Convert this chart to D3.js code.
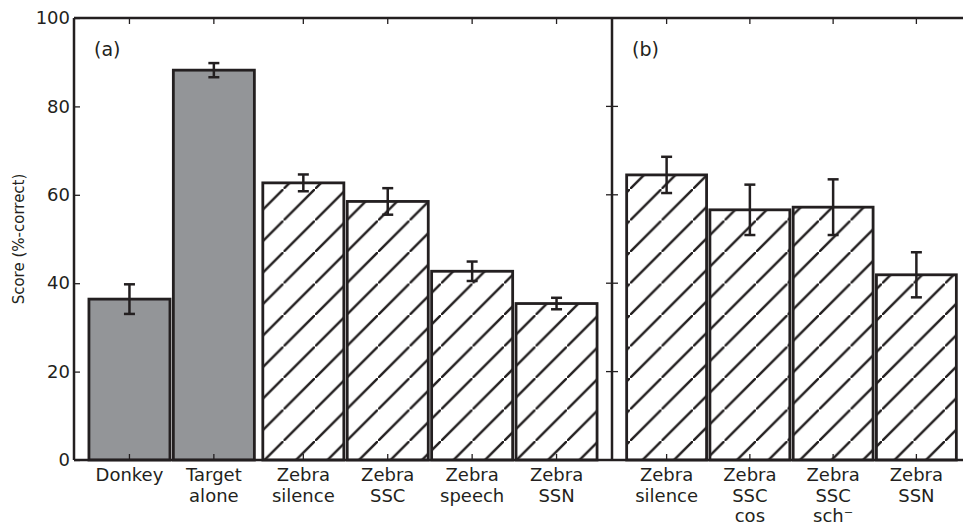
<!DOCTYPE html>
<html>
<head>
<meta charset="utf-8">
<script src="https://cdn.jsdelivr.net/npm/d3@7"></script>
<style>
  body { margin: 0; background: #fff; }
  text { font-family: "DejaVu Sans", sans-serif; fill: #231f20; }
</style>
</head>
<body>
<div id="chart"></div>
<script>
// panel (a) data
var catsA = [["Donkey"], ["Target", "alone"], ["Zebra", "silence"], ["Zebra", "SSC"], ["Zebra", "speech"], ["Zebra", "SSN"]];
var posA = [1, 2, 3.06, 4.06, 5.06, 6.06];
var valsA = [36.4, 88.2, 62.7, 58.5, 42.7, 35.4];
var errA = [3.35, 1.6, 1.9, 3.0, 2.2, 1.3];
var hatchA = [false, false, true, true, true, true];

// panel (b) data
var catsB = [["Zebra", "silence"], ["Zebra", "SSC", "cos"], ["Zebra", "SSC", "sch⁻"], ["Zebra", "SSN"]];
var posB = [1, 2, 3, 4];
var valsB = [64.5, 56.6, 57.2, 41.9];
var errB = [4.1, 5.7, 6.3, 5.1];

var yTicks = [0, 20, 40, 60, 80, 100];

var W = 963, H = 525;
var yTop = 18, yBot = 460, xLeft = 74, xSplit = 612;

var svg = d3.select("#chart").append("svg")
  .attr("width", W).attr("height", H);

// hatch pattern
svg.append("defs").append("pattern")
  .attr("id", "hatch")
  .attr("patternUnits", "userSpaceOnUse")
  .attr("width", 31.5).attr("height", 31.5)
  .call(function(p) {
    p.append("rect").attr("width", 31.5).attr("height", 31.5).attr("fill", "#fff");
    p.append("line").attr("x1", -2).attr("y1", 33.5).attr("x2", 33.5).attr("y2", -2)
      .attr("stroke", "#231f20").attr("stroke-width", 2.4);
  });

var y = d3.scaleLinear().domain([0, 100]).range([yBot, yTop]);
var xA = d3.scaleLinear().domain([0.343, 6.717]).range([xLeft, xSplit]);
var xB = d3.scaleLinear().domain([0.344, 4.656]).range([xSplit, 971]);
var barW = 0.96;

function drawPanel(x, pos, vals, errs, hatch, cats, label) {
  var g = svg.append("g");
  var w = x(barW) - x(0);

  g.selectAll("rect.bar").data(vals).enter().append("rect")
    .attr("class", "bar")
    .attr("x", function(d, i) { return x(pos[i]) - w / 2; })
    .attr("y", function(d) { return y(d); })
    .attr("width", w)
    .attr("height", function(d) { return y(0) - y(d); })
    .attr("fill", function(d, i) { return hatch[i] ? "url(#hatch)" : "#939598"; })
    .attr("stroke", "#231f20").attr("stroke-width", 2.8);

  // error bars
  var eb = g.selectAll("g.err").data(vals).enter().append("g").attr("class", "err");
  eb.append("line")
    .attr("x1", function(d, i) { return x(pos[i]); })
    .attr("x2", function(d, i) { return x(pos[i]); })
    .attr("y1", function(d, i) { return y(d + errs[i]); })
    .attr("y2", function(d, i) { return y(d - errs[i]); });
  eb.append("line")
    .attr("x1", function(d, i) { return x(pos[i]) - 5.5; })
    .attr("x2", function(d, i) { return x(pos[i]) + 5.5; })
    .attr("y1", function(d, i) { return y(d + errs[i]); })
    .attr("y2", function(d, i) { return y(d + errs[i]); });
  eb.append("line")
    .attr("x1", function(d, i) { return x(pos[i]) - 5.5; })
    .attr("x2", function(d, i) { return x(pos[i]) + 5.5; })
    .attr("y1", function(d, i) { return y(d - errs[i]); })
    .attr("y2", function(d, i) { return y(d - errs[i]); });
  eb.selectAll("line").attr("stroke", "#231f20").attr("stroke-width", 2.5);

  // x ticks (inside, top and bottom)
  pos.forEach(function(p) {
    g.append("line").attr("x1", x(p)).attr("x2", x(p)).attr("y1", yBot).attr("y2", yBot - 6)
      .attr("stroke", "#231f20").attr("stroke-width", 1.3);
    g.append("line").attr("x1", x(p)).attr("x2", x(p)).attr("y1", yTop).attr("y2", yTop + 6)
      .attr("stroke", "#231f20").attr("stroke-width", 1.3);
  });

  // x labels
  cats.forEach(function(lines, i) {
    var t = g.append("text")
      .attr("x", x(pos[i])).attr("y", yBot + 21)
      .attr("text-anchor", "middle")
      .style("font-size", "18px");
    lines.forEach(function(s, j) {
      t.append("tspan").attr("x", x(pos[i])).attr("dy", j === 0 ? 0 : 20.5).text(s);
    });
  });

  g.append("text")
    .attr("x", x.range()[0] + 20).attr("y", yTop + 38)
    .style("font-size", "19px")
    .text(label);
}

drawPanel(xA, posA, valsA, errA, hatchA, catsA, "(a)");
drawPanel(xB, posB, valsB, errB, [true, true, true, true], catsB, "(b)");

// left y axis
var yAxis = svg.append("g")
  .attr("transform", "translate(" + xLeft + ",0)")
  .call(d3.axisLeft(y).tickValues(yTicks).tickSizeInner(-6).tickSizeOuter(0).tickPadding(4));
yAxis.select(".domain").remove();
yAxis.selectAll("line").attr("stroke", "#231f20").attr("stroke-width", 1.3);
yAxis.selectAll("text").style("font-size", "18px").attr("fill", "#231f20")
  .style("font-family", "DejaVu Sans, sans-serif");

// ticks on the split line, both sides
yTicks.slice(1, -1).forEach(function(t) {
  svg.append("line").attr("x1", xSplit - 6).attr("x2", xSplit + 6)
    .attr("y1", y(t)).attr("y2", y(t))
    .attr("stroke", "#231f20").attr("stroke-width", 1.3);
});

// frame lines
var frame = svg.append("g").attr("stroke", "#231f20").attr("stroke-width", 2.5).attr("fill", "none");
frame.append("line").attr("x1", xLeft).attr("x2", W).attr("y1", yTop).attr("y2", yTop);
frame.append("line").attr("x1", xLeft).attr("x2", W).attr("y1", yBot).attr("y2", yBot);
frame.append("line").attr("x1", xLeft).attr("x2", xLeft).attr("y1", yTop).attr("y2", yBot);
frame.append("line").attr("x1", xSplit).attr("x2", xSplit).attr("y1", yTop).attr("y2", yBot);

// y label
svg.append("text")
  .attr("transform", "translate(24," + ((yTop + yBot) / 2) + ") rotate(-90)")
  .attr("text-anchor", "middle")
  .style("font-size", "15px")
  .text("Score (%-correct)");
</script>
</body>
</html>
